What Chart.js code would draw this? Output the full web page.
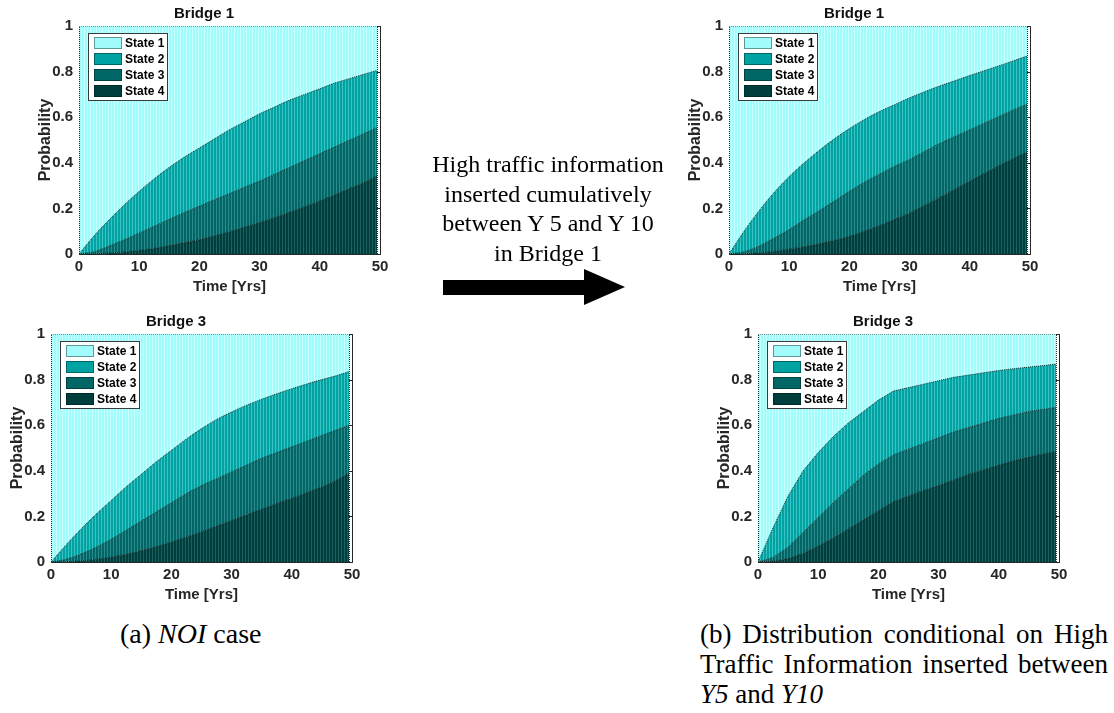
<!DOCTYPE html>
<html>
<head>
<meta charset="utf-8">
<title>Bridge deterioration states</title>
<script src="https://cdn.jsdelivr.net/npm/chart.js@4.4.1/dist/chart.umd.min.js"></script>
<style>
  html, body { margin: 0; padding: 0; background: #fff; }
  body { width: 1114px; height: 713px; position: relative; overflow: hidden; }
  canvas { position: absolute; }
  #p1 { left: 28px; top: 0; }
  #p2 { left: 678px; top: 0; }
  #p3 { left: 0; top: 308px; }
  #p4 { left: 707px; top: 308px; }
  .note {
    position: absolute; left: 418px; top: 150px; width: 260px; text-align: center;
    font-family: "Liberation Serif", "Times New Roman", serif; font-size: 24px; line-height: 29.5px; color: #000;
  }
  #arrow { position: absolute; left: 440px; top: 265px; }
  .caption {
    position: absolute; font-family: "Liberation Serif", "Times New Roman", serif;
    font-size: 27px; line-height: 30px; color: #000;
  }
  #capA { left: 120px; top: 619px; font-size: 28px; }
  #capB { left: 700px; top: 619px; width: 408px; }
  #capB .j { text-align: justify; text-align-last: justify; }
</style>
</head>
<body>
<canvas id="p1" width="403" height="300"></canvas>
<canvas id="p2" width="403" height="300"></canvas>
<canvas id="p3" width="403" height="300"></canvas>
<canvas id="p4" width="403" height="300"></canvas>

<div class="note">High traffic information<br>inserted cumulatively<br>between Y 5 and Y 10<br>in Bridge 1</div>
<svg id="arrow" width="190" height="45">
  <polygon points="3,15 144,15 144,4 185,22 144,40 144,30 3,30" fill="#000"/>
</svg>

<div class="caption" id="capA">(a) <i>NOI</i> case</div>
<div class="caption" id="capB">
  <div class="j">(b) Distribution conditional on High</div>
  <div class="j">Traffic Information inserted between</div>
  <div><i>Y5</i> and <i>Y10</i></div>
</div>

<script>
// time axis (years) shared by all four panels
const years = [0, 2.5, 5, 7.5, 10, 12.5, 15, 17.5, 20, 22.5, 25, 27.5, 30, 32.5, 35, 37.5, 40, 42.5, 45, 47.5, 49.5];
const stateLabels = ['State 1', 'State 2', 'State 3', 'State 4'];
const xTicks = [0, 10, 20, 30, 40, 50];
const yTicks = [0, 0.2, 0.4, 0.6, 0.8, 1];

// Bridge 1, no information
const b1NoiState1 = [1, 0.92, 0.85, 0.785, 0.725, 0.67, 0.62, 0.575, 0.535, 0.495, 0.455, 0.42, 0.385, 0.355, 0.325, 0.30, 0.275, 0.25, 0.23, 0.21, 0.195];
const b1NoiState2 = [0, 0.07, 0.115, 0.153, 0.183, 0.208, 0.228, 0.243, 0.255, 0.267, 0.28, 0.287, 0.295, 0.295, 0.295, 0.29, 0.285, 0.28, 0.27, 0.26, 0.25];
const b1NoiState3 = [0, 0.009, 0.031, 0.053, 0.076, 0.097, 0.115, 0.132, 0.147, 0.158, 0.167, 0.175, 0.182, 0.19, 0.197, 0.202, 0.207, 0.21, 0.212, 0.214, 0.212];
const b1NoiState4 = [0, 0.001, 0.004, 0.009, 0.016, 0.025, 0.037, 0.05, 0.063, 0.08, 0.098, 0.118, 0.138, 0.16, 0.183, 0.208, 0.233, 0.26, 0.288, 0.316, 0.343];

// Bridge 3, no information
const b3NoiState1 = [1, 0.925, 0.855, 0.79, 0.73, 0.67, 0.615, 0.56, 0.51, 0.46, 0.415, 0.375, 0.342, 0.312, 0.286, 0.262, 0.24, 0.219, 0.20, 0.182, 0.165];
const b3NoiState2 = [0, 0.063, 0.11, 0.145, 0.17, 0.19, 0.205, 0.22, 0.23, 0.24, 0.25, 0.26, 0.263, 0.263, 0.259, 0.258, 0.255, 0.251, 0.245, 0.238, 0.235];
const b3NoiState3 = [0, 0.011, 0.03, 0.053, 0.078, 0.106, 0.13, 0.152, 0.172, 0.19, 0.202, 0.207, 0.213, 0.218, 0.223, 0.223, 0.225, 0.225, 0.225, 0.22, 0.21];
const b3NoiState4 = [0, 0.001, 0.005, 0.012, 0.022, 0.034, 0.05, 0.068, 0.088, 0.11, 0.133, 0.158, 0.182, 0.207, 0.232, 0.257, 0.28, 0.305, 0.33, 0.36, 0.39];

// Bridge 1, high traffic observed between Y5 and Y10
const b1HtState1 = [1, 0.9, 0.81, 0.73, 0.66, 0.60, 0.545, 0.495, 0.45, 0.41, 0.375, 0.345, 0.315, 0.288, 0.263, 0.24, 0.217, 0.195, 0.173, 0.15, 0.132];
const b1HtState2 = [0, 0.09, 0.155, 0.2, 0.233, 0.25, 0.265, 0.273, 0.275, 0.275, 0.275, 0.27, 0.27, 0.262, 0.252, 0.245, 0.238, 0.23, 0.222, 0.215, 0.211];
const b1HtState3 = [0, 0.009, 0.03, 0.058, 0.085, 0.118, 0.145, 0.172, 0.197, 0.215, 0.225, 0.233, 0.235, 0.236, 0.237, 0.231, 0.225, 0.22, 0.215, 0.213, 0.209];
const b1HtState4 = [0, 0.001, 0.005, 0.012, 0.022, 0.032, 0.045, 0.06, 0.078, 0.1, 0.125, 0.152, 0.18, 0.214, 0.248, 0.284, 0.32, 0.355, 0.39, 0.422, 0.448];

// Bridge 3, conditional on the Bridge 1 high traffic information
const b3HtState1 = [1, 0.85, 0.71, 0.60, 0.52, 0.45, 0.39, 0.34, 0.29, 0.25, 0.235, 0.22, 0.205, 0.19, 0.18, 0.17, 0.16, 0.152, 0.145, 0.138, 0.132];
const b3HtState2 = [0, 0.13, 0.225, 0.27, 0.285, 0.29, 0.29, 0.28, 0.28, 0.28, 0.27, 0.26, 0.25, 0.24, 0.23, 0.22, 0.21, 0.203, 0.195, 0.192, 0.19];
const b3HtState3 = [0, 0.017, 0.05, 0.092, 0.125, 0.155, 0.175, 0.195, 0.205, 0.205, 0.205, 0.205, 0.21, 0.21, 0.205, 0.205, 0.205, 0.2, 0.2, 0.195, 0.193];
const b3HtState4 = [0, 0.003, 0.015, 0.038, 0.07, 0.105, 0.145, 0.185, 0.225, 0.265, 0.29, 0.315, 0.335, 0.36, 0.385, 0.405, 0.425, 0.445, 0.46, 0.475, 0.485];

const fillColors = ['#a2fcfc', '#00a2a2', '#006666', '#003d3d'];
const stripeColors = ['#c8ffff', '#3cc2c2', '#2e8a8a', '#1d6060'];
const edgeColor = 'rgba(0, 20, 20, 0.85)';
const axisText = '#262626';
const sans = '"Liberation Sans", Arial, Helvetica, sans-serif';

// thin vertical hatching, like the bar edges of the original plot
function stripes(base, light) {
  const tile = document.createElement('canvas');
  tile.width = 3; tile.height = 1;
  const g = tile.getContext('2d');
  g.fillStyle = base; g.fillRect(0, 0, 3, 1);
  g.fillStyle = light; g.fillRect(2, 0, 1, 1);
  return g.createPattern(tile, 'repeat');
}

// box around the axes with inward ticks, drawn under the areas
const axesBox = {
  id: 'axesBox',
  beforeDatasetsDraw(chart) {
    const { ctx, chartArea: a, scales: { x, y } } = chart;
    ctx.save();
    ctx.strokeStyle = axisText;
    ctx.lineWidth = 1;
    ctx.beginPath();
    const l = Math.round(a.left) + 0.5, r = Math.round(a.right) + 0.5;
    const t = Math.round(a.top) + 0.5, b = Math.round(a.bottom) + 0.5;
    ctx.rect(l, t, r - l, b - t);
    y.ticks.forEach(tk => {
      const py = Math.round(y.getPixelForValue(tk.value)) + 0.5;
      ctx.moveTo(l, py); ctx.lineTo(l + 4, py);
      ctx.moveTo(r, py); ctx.lineTo(r - 4, py);
    });
    x.ticks.forEach(tk => {
      const px = Math.round(x.getPixelForValue(tk.value)) + 0.5;
      ctx.moveTo(px, b); ctx.lineTo(px, b - 4);
      ctx.moveTo(px, t); ctx.lineTo(px, t + 4);
    });
    ctx.stroke();
    ctx.restore();
  },
  afterDatasetsDraw(chart) {
    // dotted side edges of the stacked areas
    const { ctx, scales: { x, y } } = chart;
    ctx.save();
    ctx.strokeStyle = edgeColor;
    ctx.setLineDash([1, 1]);
    ctx.beginPath();
    [years[0], years[years.length - 1]].forEach(v => {
      const px = Math.round(x.getPixelForValue(v)) + 0.5;
      ctx.moveTo(px, y.getPixelForValue(0));
      ctx.lineTo(px, y.getPixelForValue(1));
    });
    ctx.stroke();
    ctx.restore();
  }
};

// legend box in the upper-left corner of the axes
const legendBox = {
  id: 'legendBox',
  afterDraw(chart) {
    const { ctx, chartArea: a } = chart;
    const x0 = Math.round(a.left) + 9, y0 = Math.round(a.top) + 7;
    ctx.save();
    ctx.fillStyle = '#fff';
    ctx.fillRect(x0, y0, 79, 67);
    ctx.strokeStyle = '#3a3a3a';
    ctx.lineWidth = 1;
    ctx.strokeRect(x0 + 0.5, y0 + 0.5, 79, 67);
    const items = chart.data.datasets.slice().reverse();
    items.forEach((ds, i) => {
      const cy = y0 + 10 + i * 16;
      ctx.fillStyle = ds.swatch;
      ctx.fillRect(x0 + 6, cy - 6, 28, 12);
      ctx.strokeStyle = edgeColor;
      ctx.setLineDash([1, 1]);
      ctx.strokeRect(x0 + 6.5, cy - 5.5, 27, 11);
      ctx.setLineDash([]);
      ctx.fillStyle = '#000';
      ctx.font = 'bold 12px ' + sans;
      ctx.textBaseline = 'middle';
      ctx.fillText(ds.label, x0 + 37, cy + 0.5);
    });
    ctx.restore();
  }
};

function makePanel(id, title, states, smooth) {
  const ctx = document.getElementById(id).getContext('2d');
  // stack from the worst state upwards
  const datasets = [3, 2, 1, 0].map((k, n) => ({
    label: stateLabels[k],
    data: years.map((t, i) => ({ x: t, y: states[k][i] })),
    backgroundColor: stripes(fillColors[k], stripeColors[k]),
    swatch: fillColors[k],
    borderColor: edgeColor,
    borderWidth: 1,
    borderDash: [1, 1],
    fill: n === 0 ? 'origin' : '-1',
    pointRadius: 0,
    cubicInterpolationMode: smooth ? 'monotone' : 'default',
    tension: 0
  }));

  return new Chart(ctx, {
    type: 'line',
    data: { datasets },
    options: {
      responsive: false,
      animation: false,
      devicePixelRatio: 1,
      layout: { padding: { top: 0, right: 51, bottom: 0, left: 0 } },
      plugins: {
        legend: { display: false },
        tooltip: { enabled: false },
        title: {
          display: true,
          text: title,
          color: '#111',
          font: { family: sans, size: 15, weight: 'bold', lineHeight: 1.2 },
          padding: { top: 5, bottom: 3 }
        }
      },
      scales: {
        x: {
          type: 'linear',
          min: 0,
          max: 50,
          grid: { display: false, drawTicks: false },
          border: { display: false },
          ticks: { color: axisText, font: { family: sans, size: 15, weight: 'bold' }, padding: 4, maxRotation: 0 },
          title: {
            display: true,
            text: 'Time [Yrs]',
            color: axisText,
            font: { family: sans, size: 15, weight: 'bold', lineHeight: 1.2 },
            padding: { top: 0, bottom: 4 }
          },
          afterBuildTicks: s => { s.ticks = xTicks.map(v => ({ value: v })); },
          afterFit: s => { s.height = 46; }
        },
        y: {
          stacked: true,
          min: 0,
          max: 1,
          grid: { display: false, drawTicks: false },
          border: { display: false },
          ticks: {
            color: axisText,
            font: { family: sans, size: 15, weight: 'bold' },
            padding: 6,
            callback: v => String(v)
          },
          title: {
            display: true,
            text: 'Probability',
            color: axisText,
            font: { family: sans, size: 16, weight: 'bold', lineHeight: 1.2 },
            padding: { top: 8, bottom: 0 }
          },
          afterBuildTicks: s => { s.ticks = yTicks.map(v => ({ value: v })); },
          afterFit: s => { s.width = 51; }
        }
      }
    },
    plugins: [axesBox, legendBox]
  });
}

makePanel('p1', 'Bridge 1', [b1NoiState1, b1NoiState2, b1NoiState3, b1NoiState4], true);
makePanel('p3', 'Bridge 3', [b3NoiState1, b3NoiState2, b3NoiState3, b3NoiState4], true);
makePanel('p2', 'Bridge 1', [b1HtState1, b1HtState2, b1HtState3, b1HtState4], true);
makePanel('p4', 'Bridge 3', [b3HtState1, b3HtState2, b3HtState3, b3HtState4], false);
</script>
</body>
</html>
